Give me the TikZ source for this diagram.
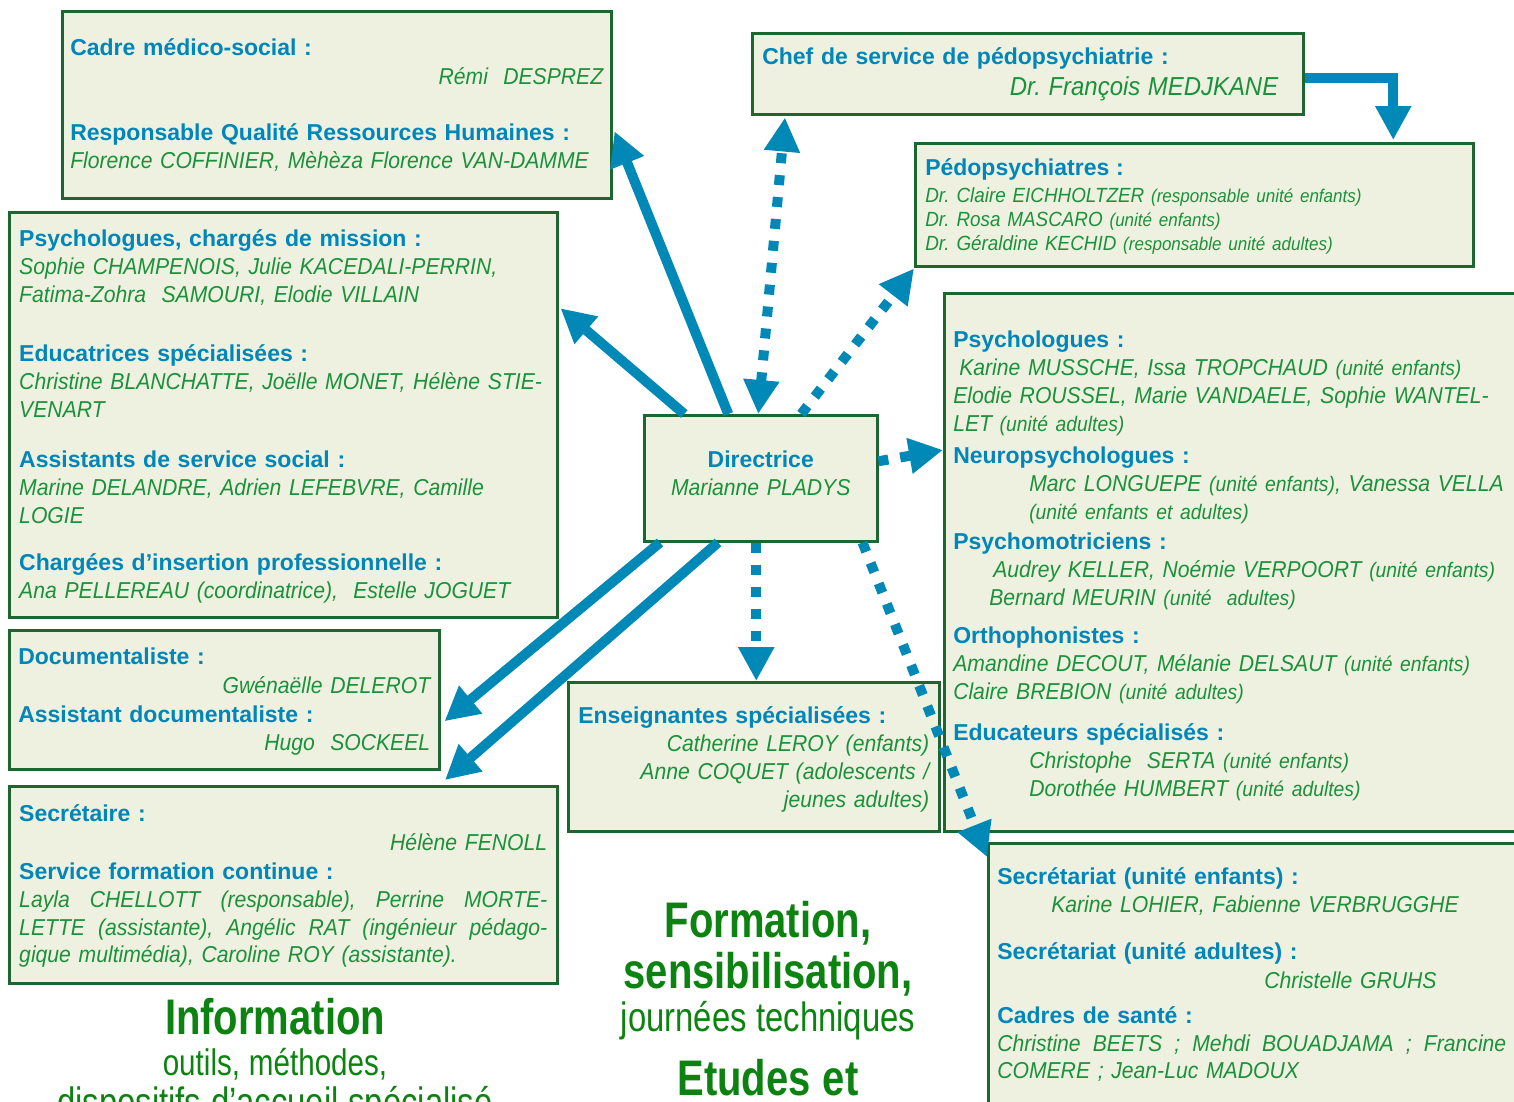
\documentclass[tikz,border=0pt]{standalone}
\usepackage{fontspec}
\setmainfont{Liberation Sans}[FakeStretch=0.92]
\newfontfamily\headfont{Liberation Sans}
\newfontfamily\bigfont{Liberation Sans}[FakeStretch=0.8]
\usetikzlibrary{arrows.meta, positioning}
\definecolor{boxfill}{RGB}{239,241,224}
\definecolor{boxgreen}{RGB}{28,102,48}
\definecolor{headblue}{RGB}{0,134,184}
\definecolor{namegreen}{RGB}{26,145,58}
\definecolor{linkblue}{RGB}{0,136,182}
\definecolor{titlegreen}{RGB}{12,130,16}
\frenchspacing
\newcommand{\hd}[1]{{\headfont\bfseries\upshape\color{headblue}#1}}
\newcommand{\pnote}[2][21]{{\fontsize{#1}{28}\selectfont #2}}
\newcommand{\bigsize}[2]{\fontsize{#1}{#2}\selectfont\spaceskip=\dimexpr #1pt*24/100\relax}
\tikzstyle{unitbox} = [
rectangle, draw=boxgreen, line width=2.5pt, fill=boxfill, anchor=north west,
inner xsep=10pt, inner ysep=0pt, align=left, text=namegreen,
font=\fontsize{23}{28}\selectfont\itshape
]
\tikzstyle{link} = [line width=10pt, draw=linkblue, -{Triangle[length=34pt,width=34pt]}]
\tikzstyle{dotlink} = [link, dash pattern=on 10pt off 12pt]
\tikzstyle{bigtext} = [align=center, text=titlegreen, font=\bigfont, inner sep=0pt, anchor=base, text width=520pt]

\begin{document}
\begin{tikzpicture}[x=1pt, y=-1pt]
\useasboundingbox (0,0) rectangle (1514,1101);

% Direction et encadrement
\node (dir) [unitbox, inner xsep=9pt, align=center, text width=215pt, text height=52pt, text depth=74pt] at (643,414) {\hd{Directrice}\\ Marianne PLADYS};
\node (cadre) [unitbox, inner xsep=8pt, text width=533pt, text height=44pt, text depth=143pt] at (61,10) {%
\hd{Cadre médico-social :}\\[1pt]
\hspace*{\fill}Rémi\ \ DESPREZ\\[28pt]
\hd{Responsable Qualité Ressources Humaines :}\\
Florence COFFINIER, Mèhèza Florence VAN-DAMME};
\node (chef) [unitbox, text width=531pt, text height=31pt, text depth=50pt] at (751,32) {%
\hd{Chef de service de pédopsychiatrie :}\\[3pt]
\hspace*{\fill}{\fontsize{26}{28}\selectfont Dr. François MEDJKANE}\hspace{15pt}\mbox{}};
\node (pedo) [unitbox, text width=538pt, text height=32pt, text depth=91pt, font=\fontsize{20.5}{24}\selectfont\itshape] at (914,142) {%
\hd{\fontsize{23}{24}\selectfont Pédopsychiatres :}\\[3pt]
Dr. Claire EICHHOLTZER \pnote[18.5]{(responsable unité enfants)}\\
Dr. Rosa MASCARO \pnote[18.5]{(unité enfants)}\\
Dr. Géraldine KECHID \pnote[18.5]{(responsable unité adultes)}};

% Equipes
\node (psy) [unitbox, text width=528pt, text height=34pt, text depth=371pt] at (8,211) {%
\hd{Psychologues, chargés de mission :}\\
Sophie CHAMPENOIS, Julie KACEDALI-PERRIN,\\
Fatima-Zohra\ \ SAMOURI, Elodie VILLAIN\\[31pt]
\hd{Educatrices spécialisées :}\\
Christine BLANCHATTE, Joëlle MONET, Hélène STIE-\\
VENART\\[22pt]
\hd{Assistants de service social :}\\
Marine DELANDRE, Adrien LEFEBVRE, Camille\\
LOGIE\\[19pt]
\hd{Chargées d’insertion professionnelle :}\\
Ana PELLEREAU (coordinatrice),\ \ Estelle JOGUET};
\node (equipe) [unitbox, inner xsep=9pt, text width=564pt, text height=54pt, text depth=484pt] at (943,292) {%
\hd{Psychologues :}\\
\hspace*{6pt}Karine MUSSCHE, Issa TROPCHAUD \pnote{(unité enfants)}\\
Elodie ROUSSEL, Marie VANDAELE, Sophie WANTEL-\\
LET \pnote{(unité adultes)}\\[4pt]
\hd{Neuropsychologues :}\\
\hspace*{76pt}Marc LONGUEPE \pnote{(unité enfants)}, Vanessa VELLA\\
\hspace*{76pt}\pnote{(unité enfants et adultes)}\\[2pt]
\hd{Psychomotriciens :}\\
\hspace*{40pt}Audrey KELLER, Noémie VERPOORT \pnote{(unité enfants)}\\
\hspace*{36pt}Bernard MEURIN \pnote{(unité\ \ adultes)}\\[10pt]
\hd{Orthophonistes :}\\
Amandine DECOUT, Mélanie DELSAUT \pnote{(unité enfants)}\\
Claire BREBION \pnote{(unité adultes)}\\[13pt]
\hd{Educateurs spécialisés :}\\
\hspace*{76pt}Christophe\ \ SERTA \pnote{(unité enfants)}\\
\hspace*{76pt}Dorothée HUMBERT \pnote{(unité adultes)}};
\node (doc) [unitbox, inner xsep=9pt, text width=412pt, text height=34pt, text depth=105pt] at (8,629) {%
\hd{Documentaliste :}\\[1pt]
\hspace*{\fill}Gwénaëlle DELEROT\\[1pt]
\hd{Assistant documentaliste :}\\
\hspace*{\fill}Hugo\ \ SOCKEEL};
\node (secr) [unitbox, text width=528pt, text height=35pt, text depth=162pt] at (8,785) {%
\hd{Secrétaire :}\\[1pt]
\hspace*{\fill}Hélène FENOLL\\[1pt]
\hd{Service formation continue :}\\
\makebox[528pt]{Layla\hfill CHELLOTT\hfill (responsable),\hfill Perrine\hfill MORTE-}\\
\makebox[528pt]{LETTE\hfill (assistante),\hfill Angélic\hfill RAT\hfill (ingénieur\hfill pédago-}\\[-1pt]
gique multimédia), Caroline ROY (assistante).};
\node (ens) [unitbox, text width=351pt, text height=41pt, text depth=108pt] at (567,681) {%
\hd{Enseignantes spécialisées :}\\
\hspace*{\fill}Catherine LEROY (enfants)\\
\hspace*{\fill}Anne COQUET (adolescents /\\
\hspace*{\fill}jeunes adultes)};
\node (sec2) [unitbox, inner xsep=9pt, text width=520pt, text height=41pt, text depth=227pt] at (987,842) {%
\hd{Secrétariat (unité enfants) :}\\
\hspace*{54pt}Karine LOHIER, Fabienne VERBRUGGHE\\[19pt]
\hd{Secrétariat (unité adultes) :}\\[1pt]
\hspace*{267pt}Christelle GRUHS\\[7pt]
\hd{Cadres de santé :}\\
\makebox[509pt]{Christine\hfill BEETS\hfill ;\hfill Mehdi\hfill BOUADJAMA\hfill ;\hfill Francine}\\[-1pt]
COMERE ; Jean-Luc MADOUX};

% Missions
\node (info) [bigtext] at (275,1034) {%
\bigsize{37}{41}{\bfseries\bigsize{50}{41}Information}\\
outils, méthodes,\\[6pt]
{\bigsize{41}{41}dispositifs d’accueil spécialisé}};
\node (form) [bigtext] at (768,937) {%
\bigsize{41}{51}{\bfseries\bigsize{50}{51}Formation,}\\
{\bfseries\bigsize{50}{51}sensibilisation,}\\[-8pt]
journées techniques\\[19pt]
{\bfseries\bigsize{50}{51}Etudes et}};

% Liens hierarchiques
\draw [link] ([xshift=-32.5pt]dir.north) -- ([xshift=2pt,yshift=-26.5pt]cadre.east);
\draw [link] ([xshift=-76.5pt]dir.north) -- ([xshift=2pt,yshift=106.5pt]psy.east);
\draw [link] ([xshift=17pt]dir.south west) -- ([xshift=4pt,yshift=-21.5pt]doc.east);
\draw [link] ([xshift=75pt]dir.south west) -- ([xshift=437pt,yshift=5pt]secr.north west);
\draw [link] ([yshift=-4.5pt]chef.east) -| ([xshift=199pt,yshift=2pt]pedo.north);

% Liens fonctionnels
\draw [dotlink, {Triangle[length=34pt,width=34pt]}-{Triangle[length=34pt,width=34pt]}] ([xshift=-2.5pt]dir.north) -- ([xshift=34pt,yshift=-2pt]chef.south west);
\draw [dotlink] ([xshift=40.5pt]dir.north) -- ([yshift=-1pt]pedo.south west);
\draw [dotlink] ([yshift=17pt]dir.east) -- ([yshift=-158pt]equipe.north west);
\draw [dotlink] ([xshift=-4.5pt]dir.south) -- ([xshift=2.5pt]ens.north);
\draw [dotlink] ([xshift=-16pt]dir.south east) -- ([yshift=-15pt]sec2.north west);

\end{tikzpicture}
\end{document}
